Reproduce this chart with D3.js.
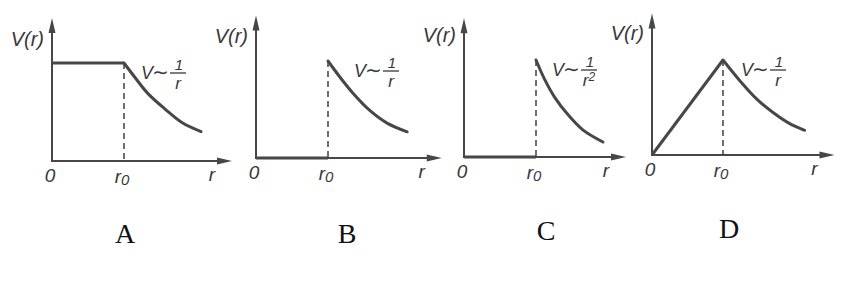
<!DOCTYPE html>
<html>
<head>
<meta charset="utf-8">
<script src="https://cdn.jsdelivr.net/npm/d3@7"></script>
<style>
  body { margin: 0; background: #ffffff; }
  svg { display: block; }
  .lbl { font-family: "Liberation Sans", "DejaVu Sans", sans-serif; font-style: italic; fill: #383838; }
  .letter { font-family: "Liberation Serif", "DejaVu Serif", serif; fill: #111; }
</style>
</head>
<body>
<svg class="chart" width="841" height="290"></svg>
<script>
// panel letters and formula denominators
const panelLetters = ["A", "B", "C", "D"]
const formulaDenoms = ["r", "r", "r2", "r"]
const tickLabels = ["0", "r", "r"]   // origin, r0 (with subscript 0), axis name

// (r, V) with r0 = 1 and peak V = 1
const innerA = [[0, 1], [1, 1]]
const innerB = [[0, 0], [1, 0]]
const innerC = [[0, 0], [1, 0]]
const innerD = [[0, 0], [1, 1]]

const outerA = [[1, 1], [1.15, 0.855], [1.33, 0.69], [1.57, 0.53], [1.81, 0.39], [2.07, 0.30]]
const outerB = [[1, 1], [1.17, 0.83], [1.35, 0.665], [1.58, 0.49], [1.82, 0.36], [2.10, 0.27]]
const outerC = [[1, 1], [1.12, 0.80], [1.26, 0.615], [1.44, 0.44], [1.65, 0.28], [1.93, 0.155]]
const outerD = [[1, 1], [1.24, 0.78], [1.48, 0.585], [1.70, 0.45], [1.94, 0.33], [2.15, 0.26]]

const rMax = [2.5, 2.58, 2.25, 2.57]
const vMax = [1.46, 1.47, 1.43, 1.49]

const inner = [innerA, innerB, innerC, innerD]
const outer = [outerA, outerB, outerC, outerD]

// layout: pixel frame of each small plot
const frames = [
  {x0: 52,  x1: 124, y0: 161, y1: 63, fx: 17, letterX: 125, letterY: 243},
  {x0: 256, x1: 328, y0: 158, y1: 61, fx: 26, letterX: 347, letterY: 243},
  {x0: 464, x1: 536, y0: 157, y1: 60, fx: 16, letterX: 546, letterY: 240},
  {x0: 652, x1: 723, y0: 155, y1: 60, fx: 18, letterX: 729, letterY: 238}
]

const svg = d3.select('.chart')
const ink = '#474747'

frames.forEach(function(f, i) {
  const xs = d3.scaleLinear([0, 1], [f.x0, f.x1])
  const ys = d3.scaleLinear([0, 1], [f.y0, f.y1])
  const g = svg.append('g')
  const line = d3.line().x(d => xs(d[0])).y(d => ys(d[1]))

  // axes
  g.append('line')
    .attr('x1', xs(0)).attr('y1', ys(0))
    .attr('x2', xs(rMax[i]) - 6).attr('y2', ys(0))
    .attr('stroke', ink).attr('stroke-width', 2)
  g.append('line')
    .attr('x1', xs(0)).attr('y1', ys(0) + 1)
    .attr('x2', xs(0)).attr('y2', ys(vMax[i]) + 6)
    .attr('stroke', ink).attr('stroke-width', 2)

  // arrow heads
  const ax = xs(rMax[i]), ay = ys(0)
  g.append('path')
    .attr('d', `M${ax},${ay} L${ax - 15},${ay - 3.5} L${ax - 15},${ay + 3.5} Z`)
    .attr('fill', ink)
  const bx = xs(0), by = ys(vMax[i])
  g.append('path')
    .attr('d', `M${bx},${by} L${bx - 3.5},${by + 15} L${bx + 3.5},${by + 15} Z`)
    .attr('fill', ink)

  // dashed line at r0
  g.append('line')
    .attr('x1', xs(1)).attr('y1', ys(1))
    .attr('x2', xs(1)).attr('y2', ys(0))
    .attr('stroke', '#333').attr('stroke-width', 1.4)
    .attr('stroke-dasharray', '6,4')

  // potential curve
  g.append('path')
    .attr('d', line(inner[i]))
    .attr('fill', 'none').attr('stroke', ink).attr('stroke-width', 3)
  g.append('path')
    .attr('d', line.curve(d3.curveCatmullRom.alpha(0.5))(outer[i]))
    .attr('fill', 'none').attr('stroke', ink).attr('stroke-width', 3)
    .attr('stroke-linecap', 'round')

  // axis labels
  g.append('text').attr('class', 'lbl')
    .attr('x', xs(0) - 8).attr('y', ys(0) - 115)
    .attr('text-anchor', 'end').attr('font-size', 20)
    .text('V(r)')
  g.append('text').attr('class', 'lbl')
    .attr('x', xs(0) - 2).attr('y', ys(0) + 21)
    .attr('text-anchor', 'middle').attr('font-size', 19)
    .text(tickLabels[0])
  const r0 = g.append('text').attr('class', 'lbl')
    .attr('x', xs(1) - 2).attr('y', ys(0) + 22)
    .attr('text-anchor', 'middle').attr('font-size', 19)
    .text(tickLabels[1])
  r0.append('tspan').attr('font-size', 15).attr('dy', 2).text('0')
  g.append('text').attr('class', 'lbl')
    .attr('x', xs(rMax[i]) - 20).attr('y', ys(0) + 20)
    .attr('text-anchor', 'middle').attr('font-size', 19)
    .text(tickLabels[2])

  // formula V ~ 1/r
  const fx = xs(1) + f.fx, fy = ys(1) + 16
  g.append('text').attr('class', 'lbl')
    .attr('x', fx).attr('y', fy).attr('font-size', 18)
    .text('V')
  g.append('text')
    .attr('x', fx + 11).attr('y', fy)
    .attr('font-family', 'DejaVu Sans').attr('font-size', 20).attr('fill', '#383838')
    .text('\u223C')
  const barX = fx + 29
  g.append('line')
    .attr('x1', barX).attr('x2', barX + 16)
    .attr('y1', fy - 6).attr('y2', fy - 6)
    .attr('stroke', '#383838').attr('stroke-width', 1.3)
  g.append('text').attr('class', 'lbl')
    .attr('x', barX + 9).attr('y', fy - 9)
    .attr('text-anchor', 'middle').attr('font-size', 15)
    .text('1')
  const den = g.append('text').attr('class', 'lbl')
    .attr('x', barX + 8).attr('y', fy + 10)
    .attr('text-anchor', 'middle').attr('font-size', 17)
    .text(formulaDenoms[i][0])
  if (formulaDenoms[i].length > 1) {
    den.append('tspan').attr('font-size', 12).attr('dy', -5).text(formulaDenoms[i][1])
  }

  // panel letter
  svg.append('text').attr('class', 'letter')
    .attr('x', f.letterX).attr('y', f.letterY)
    .attr('text-anchor', 'middle').attr('font-size', 28)
    .text(panelLetters[i])
})
</script>
</body>
</html>
